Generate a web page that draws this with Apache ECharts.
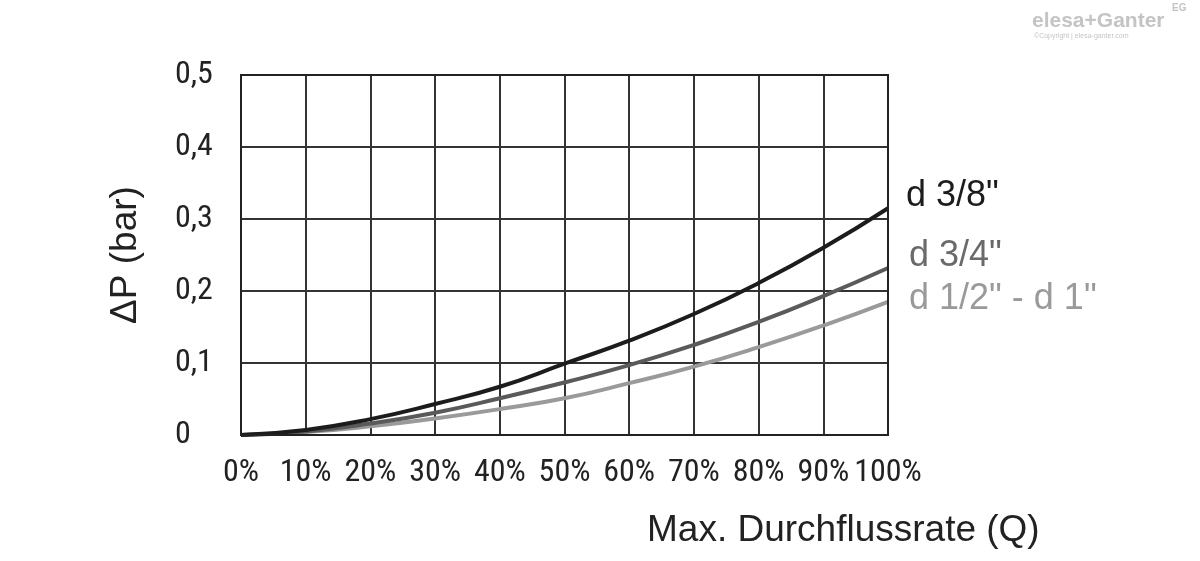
<!DOCTYPE html>
<html><head><meta charset="utf-8">
<script src="https://cdn.jsdelivr.net/npm/echarts@6/dist/echarts.min.js"></script>
<style>html,body{margin:0;padding:0;background:#fff}#c{width:1200px;height:561px}</style>
</head><body><div id="c"></div>
<script>
const flow = [0,10,20,30,40,50,60,70,80,90,100];
const d38 = [0,0.007,0.022,0.043,0.067,0.099,0.131,0.168,0.211,0.260,0.315];
const d34 = [0,0.005,0.016,0.031,0.051,0.073,0.097,0.125,0.157,0.193,0.232];
const d12_1 = [0,0.004,0.012,0.023,0.036,0.051,0.072,0.095,0.122,0.152,0.185];
const names = ['d 3/8"','d 3/4"','d 1/2" - d 1"'];
const colors = ['#1c1c1c','#5a5a5a','#9a9a9a'];
const labelColors = ['#1c1c1c','#6a6a6a','#9a9a9a'];
const labelOffsets = [[10,-12],[13,-12],[13,-3]];
const seriesData = [d38,d34,d12_1];
const narrow = '"Liberation Sans Narrow","Roboto Condensed","Liberation Sans",Arial,sans-serif';
const chart = echarts.init(document.getElementById('c'));
chart.setOption({
  animation:false,
  grid:{left:241,right:312,top:75,bottom:126},
  xAxis:{type:'value',min:0,max:100,interval:10,
    axisLine:{show:true,lineStyle:{color:'#222',width:2}},
    axisTick:{show:false},
    splitLine:{show:true,lineStyle:{color:'#333',width:2}},
    axisLabel:{formatter:'{value}%',fontFamily:narrow,fontSize:32,color:'#222',margin:22}},
  yAxis:{type:'value',min:0,max:0.5,interval:0.1,
    name:'ΔP (bar)',nameLocation:'middle',nameGap:97,nameRotate:90,
    nameTextStyle:{fontFamily:'"Liberation Sans",Arial,sans-serif',fontSize:37,color:'#222'},
    axisLine:{show:true,lineStyle:{color:'#222',width:2}},
    axisTick:{show:false},
    splitLine:{show:true,lineStyle:{color:'#333',width:2}},
    axisLabel:{formatter:v=>v===0?'0':v.toFixed(1).replace('.',','),fontFamily:narrow,fontSize:32,color:'#222',margin:66,align:'left'}},
  graphic:[
    {type:'rect',shape:{x:241,y:75,width:647,height:360},style:{fill:'none',stroke:'#222',lineWidth:2},z:10},
    {type:'text',left:647,top:512,style:{text:'Max. Durchflussrate (Q)',font:'37px "Liberation Sans", Arial, sans-serif',fill:'#222'}},
    {type:'text',left:1032,top:11,style:{text:'elesa+Ganter',font:'bold 21px "Liberation Sans", Arial, sans-serif',fill:'#c4c4c4'}},
    {type:'text',left:1034,top:33,style:{text:'©Copyright | elesa-ganter.com',font:'7px "Liberation Sans", Arial, sans-serif',fill:'#c4c4c4'}},
    {type:'text',left:1172,top:3,style:{text:'EG',font:'bold 10px "Liberation Sans", Arial, sans-serif',fill:'#c4c4c4'}}
  ],
  series: seriesData.map((d,i)=>({
    name:names[i],type:'line',smooth:true,symbol:'none',z:5+(2-i),
    data:flow.map((x,k)=>[x,d[k]]),
    lineStyle:{color:colors[i],width:4},
    endLabel:{show:true,formatter:names[i],color:labelColors[i],fontFamily:'"Liberation Sans",Arial,sans-serif',fontSize:36,offset:labelOffsets[i]}
  }))
});
</script></body></html>
